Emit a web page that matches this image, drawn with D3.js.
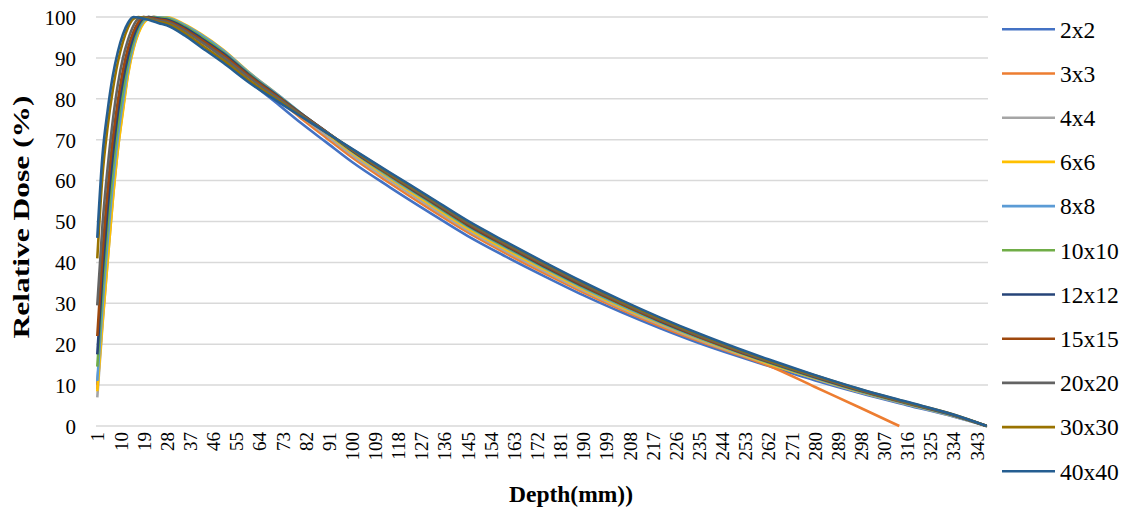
<!DOCTYPE html>
<html><head><meta charset="utf-8">
<script src="https://cdn.jsdelivr.net/npm/d3@7"></script>
<style>body{margin:0;background:#fff;}svg{display:block;font-family:"Liberation Serif","Times New Roman",serif;}</style>
</head><body><svg id="c" width="1126" height="512"></svg>
<script>
// Depth categories (mm) shown on the x axis
const depthCount = 347;
const xTickLabels = [1,10,19,28,37,46,55,64,73,82,91,100,109,118,127,136,145,154,163,172,181,190,199,208,217,226,235,244,253,262,271,280,289,298,307,316,325,334,343];
const yTickLabels = [0,10,20,30,40,50,60,70,80,90,100];
const seriesNames = ["2x2","3x3","4x4","6x6","8x8","10x10","12x12","15x15","20x20","30x30","40x40"];
const seriesColors = ["#4472C4","#ED7D31","#A5A5A5","#FFC000","#5B9BD5","#70AD47","#264478","#9E480E","#636363","#997300","#255E91"];

// Sampled depths (mm) at which values were read
const depths = [1,3,5,7,9,11,13,15,17,19,21,23,25,28,35,41,50,60,72,80,90,100,115,130,145,160,175,190,205,220,235,250,262,280,298,316,334,347];
const depths3x3 = [1,3,5,7,9,11,13,15,17,19,21,23,25,28,35,41,50,60,72,80,90,100,115,130,145,160,175,190,205,220,235,250,262,280,298,313];

const dose2x2   = [10,28,43,57.5,70,79.5,87.5,93.2,97,99.2,100,99.7,99.4, 99.0,96.8,94.3,90.0,84.4,78.3,74.2,69.4,64.6,58.3,52.3,46.5,41.4,36.6,32.0,27.8,23.9,20.3,17.1,14.7,11.2,8.0,5.1,2.3,0];
const dose3x3   = [9,26,41.5,56,68.5,78,86.8,92.6,96.4,98.8,99.8,100,99.8, 99.5,97.5,95.1,91.0,85.5,79.5,75.4,70.5,65.7,59.3,53.2,47.4,42.2,37.3,32.7,28.4,24.4,20.8,17.5,14.8,9.6,4.4,0];
const dose4x4   = [7,24.5,40,55,67.5,77.5,86.3,92.3,96.2,98.7,99.7,100,99.9, 99.7,97.9,95.6,91.5,86.0,80.0,75.9,71.1,66.3,59.9,53.8,47.9,42.7,37.8,33.1,28.8,24.8,21.1,17.7,15.2,11.6,8.2,5.3,2.4,0];
const dose6x6   = [8.5,25,40,55,67.5,77,86,92,96,98.5,99.6,100,99.9, 99.9,98.2,96.0,92.0,86.5,80.6,76.5,71.7,66.9,60.5,54.4,48.4,43.2,38.3,33.5,29.1,25.1,21.3,17.9,15.3,11.7,8.3,5.4,2.5,0];
const dose8x8   = [11,29,45,59,70.5,79.5,87.5,93,96.8,99,99.8,100,99.9, 99.8,98.0,95.8,91.8,86.4,80.6,76.6,71.9,67.2,60.8,54.8,48.8,43.6,38.6,33.8,29.4,25.3,21.5,18.1,15.5,11.8,8.4,5.4,2.5,0];
const dose10x10 = [14.5,33,49,62.5,73.5,82,89,94,97.5,99.4,100,99.9,99.8, 99.6,97.7,95.4,91.4,86.1,80.4,76.5,71.9,67.3,61.0,55.0,49.0,43.8,38.8,34.0,29.6,25.5,21.7,18.2,15.6,11.9,8.5,5.5,2.6,0];
const dose12x12 = [17.5,37,53,66,76.5,84.5,90.5,95,98,99.7,100,99.8,99.6, 99.4,97.4,95.0,91.1,85.9,80.3,76.5,72.0,67.4,61.2,55.2,49.2,44.0,39.0,34.2,29.8,25.6,21.8,18.3,15.7,12.0,8.6,5.6,2.6,0];
const dose15x15 = [22,42,57.5,70,79.5,87,92.5,96.3,98.8,100,99.9,99.6,99.4, 99.1,97.0,94.6,90.7,85.6,80.1,76.4,72.0,67.5,61.3,55.4,49.4,44.2,39.2,34.4,29.9,25.8,21.9,18.4,15.8,12.1,8.7,5.6,2.7,0];
const dose20x20 = [29.5,49,63,74.5,83.5,90,94.5,97.8,99.6,100,99.7,99.4,99.1, 98.8,96.6,94.1,90.2,85.2,79.8,76.2,71.9,67.6,61.5,55.6,49.7,44.5,39.5,34.7,30.2,26.0,22.1,18.6,15.9,12.2,8.8,5.7,2.7,0];
const dose30x30 = [41,61,73,82,89,94,97.5,99.5,100,99.8,99.5,99.1,98.8, 98.4,96.0,93.4,89.4,84.5,79.3,75.9,71.8,67.7,61.7,55.9,50.0,44.8,39.8,35.0,30.5,26.3,22.4,18.8,16.1,12.4,8.9,5.8,2.8,0];
const dose40x40 = [46,66,77,85.5,91.5,95.8,98.6,100,99.9,99.6,99.3,98.9,98.5, 98.0,95.5,92.8,88.8,84.0,79.0,75.8,71.8,67.8,61.9,56.1,50.2,45.0,40.0,35.2,30.7,26.5,22.6,19.0,16.3,12.5,9.0,5.9,2.8,0];

const seriesValues = [dose2x2,dose3x3,dose4x4,dose6x6,dose8x8,dose10x10,dose12x12,dose15x15,dose20x20,dose30x30,dose40x40];
const seriesDepths = [depths,depths3x3,depths,depths,depths,depths,depths,depths,depths,depths,depths];

const svg = d3.select("#c");
const m = {left:96, right:988, top:17, bottom:426};
const x = d3.scaleLinear().domain([0.5, depthCount + 0.5]).range([m.left, m.right]);
const y = d3.scaleLinear().domain([0, 100]).range([m.bottom, m.top]);

// gridlines
svg.append("g").selectAll("line").data(yTickLabels).join("line")
  .attr("x1", m.left).attr("x2", m.right)
  .attr("y1", d => y(d)).attr("y2", d => y(d))
  .attr("stroke", "#d9d9d9").attr("stroke-width", 1.5);

// y axis labels
const yAxis = d3.axisLeft(y).tickValues(yTickLabels).tickSize(0).tickPadding(0);
const gy = svg.append("g").attr("transform", `translate(${m.left - 20},0)`).call(yAxis);
gy.select(".domain").remove();
gy.selectAll("text").attr("font-family", "Liberation Serif").attr("font-size", 21).attr("fill", "#000").attr("dy", "0.35em");

// x axis labels
const xAxis = d3.axisBottom(x).tickValues(xTickLabels).tickSize(0).tickPadding(0);
const gx = svg.append("g").attr("transform", `translate(0,${m.bottom + 6})`).call(xAxis);
gx.select(".domain").remove();
gx.selectAll(".tick text")
  .attr("font-family", "Liberation Serif").attr("font-size", 19).attr("fill", "#000")
  .attr("text-anchor", "end").attr("transform", "rotate(-90)")
  .attr("x", 0).attr("y", 0).attr("dy", "0.35em");

// lines
const line = d3.line().curve(d3.curveMonotoneX);
const gl = svg.append("g").attr("fill", "none").attr("stroke-width", 2.6).attr("stroke-linejoin", "round");
seriesValues.forEach((vals, i) => {
  const pts = vals.map((v, j) => [x(seriesDepths[i][j]), y(v)]);
  gl.append("path").attr("d", line(pts)).attr("stroke", seriesColors[i]);
});

// legend
const lg = svg.append("g");
seriesNames.forEach((n, i) => {
  const yy = 29.3 + i * 44.2;
  lg.append("line").attr("x1", 1002).attr("x2", 1055).attr("y1", yy).attr("y2", yy)
    .attr("stroke", seriesColors[i]).attr("stroke-width", 2.6);
  lg.append("text").attr("x", 1060).attr("y", yy).attr("dy", "0.35em")
    .attr("font-family", "Liberation Serif").attr("font-size", 23.5).attr("fill", "#000").text(n);
});

// axis titles
svg.append("text").attr("x", 571).attr("y", 502).attr("text-anchor", "middle")
  .attr("font-family", "Liberation Serif").attr("font-weight", "bold").attr("font-size", 23.5).text("Depth(mm))");
svg.append("text").attr("transform", "translate(29,217) rotate(-90)").attr("text-anchor", "middle")
  .attr("font-family", "Liberation Serif").attr("font-weight", "bold").attr("font-size", 24)
  .attr("textLength", 243).attr("lengthAdjust", "spacingAndGlyphs").text("Relative Dose (%)");
</script></body></html>
